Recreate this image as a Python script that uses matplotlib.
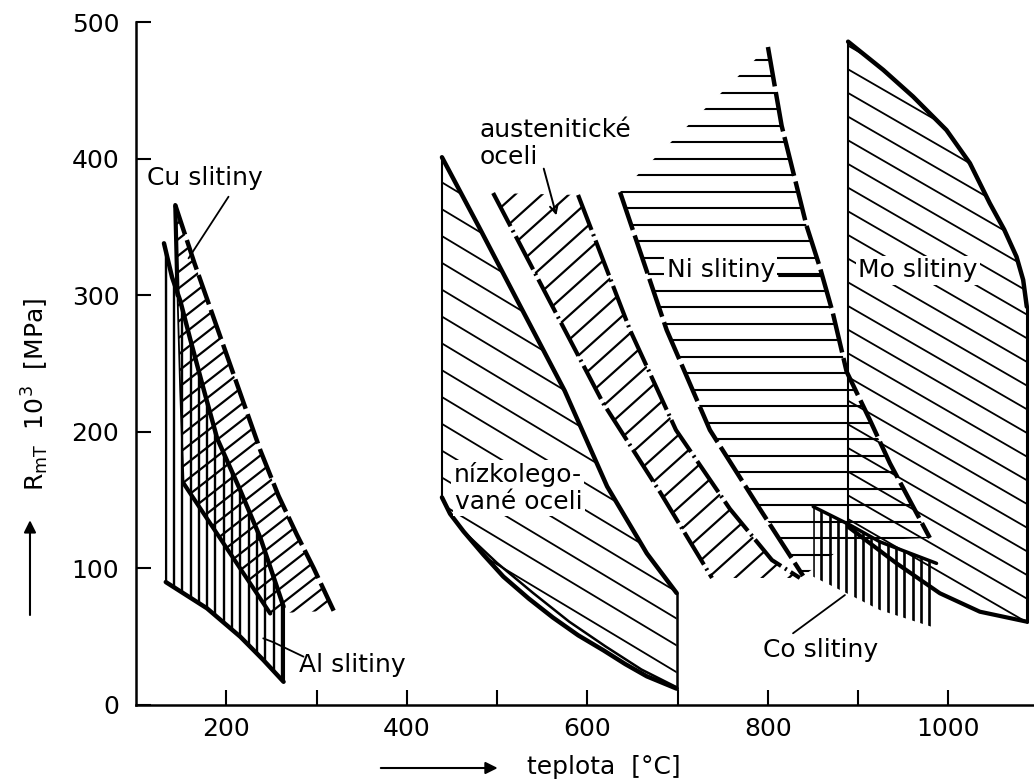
import numpy as np
import matplotlib.pyplot as plt
from matplotlib.patches import Polygon
from matplotlib.collections import LineCollection

plt.rcParams['font.family'] = ['DejaVu Sans']
plt.rcParams['font.size'] = 18

# R_mT [MPa] vs teplota [°C]

# Al slitiny
al_top_x = [131, 140, 149, 160, 175, 190, 215, 238, 263.5]
al_top_y = [338, 313, 296, 268, 231, 195, 158, 122, 72]
al_bot_x = [133, 178.6, 215.5, 241, 263.5]
al_bot_y = [90, 70.8, 50, 33, 17]

# Cu slitiny
cu_top_x = [143.5, 165, 190, 214, 238, 258, 278, 297, 319]
cu_top_y = [366, 323, 276, 231, 186, 153, 125, 100, 69]
cu_low_x = [152.7, 200.7, 248.7]
cu_low_y = [162.3, 114.6, 67]
cu_left_x = [143.5, 146, 149, 152.7]
cu_left_y = [366, 300, 230, 162.3]

# nízkolegované oceli
nl_top_x = [439, 480, 525, 575, 622, 666, 699]
nl_top_y = [401, 350, 293, 230, 160, 111, 82]
nl_bot_x = [439, 448, 463, 485, 507, 535, 562, 590, 618, 642, 666, 699]
nl_bot_y = [152, 140, 127, 110, 94, 78, 64, 51, 40, 30, 21, 12]
nl_in_x = [463, 500, 540, 580, 620, 660, 699]
nl_in_y = [127, 104, 82, 61, 43, 26, 13]

# austenitické oceli
au_left_x = [495.7, 556.6, 617.5, 680.6, 738.2]
au_left_y = [374.8, 297.9, 221.1, 155.9, 93]
au_right_x = [589.8, 647.4, 698.3, 758.1, 804.6, 835.6]
au_right_y = [373.4, 274.5, 201.3, 143.5, 106.1, 93]

# Ni slitiny
ni_right_x = [800.2, 815.4, 843, 857.8, 872.1, 887.4, 913.2, 935.3, 979.6]
ni_right_y = [481.7, 424, 350.8, 320.3, 287, 244, 208.6, 177, 122.3]
ni_left_x = [636.3, 688, 735.9, 791.3, 839.2]
ni_left_y = [375.5, 274.5, 201.3, 143.5, 94.5]
ni_bot_x = [979.6, 893, 839.2]
ni_bot_y = [122.3, 120, 94.5]

# Mo slitiny
mo_top_x = [889, 928, 961, 998, 1024, 1046, 1062, 1075.6, 1083, 1087]
mo_top_y = [485.6, 464.9, 445.4, 420.9, 396.6, 367.3, 348, 328.2, 311.2, 291.6]
mo_bot_x = [889, 942.7, 990.7, 1035, 1087]
mo_bot_y = [130.5, 103.7, 81.8, 68.3, 61]

# Co slitiny
co_top_x = [850.4, 891, 924.2, 987]
co_top_y = [145.2, 131.8, 119.5, 103.7]
co_bot_x = [850.4, 887.4, 924.2, 987]
co_bot_y = [93.9, 81.8, 69.5, 56.1]

x_ticks = [200, 300, 400, 500, 600, 700, 800, 900, 1000]
x_labels = ['200', '', '400', '', '600', '', '800', '', '1000']
y_ticks = [0, 100, 200, 300, 400, 500]

fig = plt.figure(figsize=(10.34, 7.84), dpi=100)
ax = fig.add_axes([136 / 1034, 79 / 784, 898 / 1034, 683 / 784])


def hatch(px, py, angle, step, lw):
    # šrafování: rovnoběžky v palcích obrázku, oříznuté polygonem oblasti
    patch = Polygon(np.column_stack([px, py]), closed=True, fc='none', ec='none')
    ax.add_patch(patch)
    a = np.deg2rad(angle)
    d = np.array([np.cos(a), np.sin(a)])
    n = np.array([-np.sin(a), np.cos(a)])
    c = np.array([5.17, 3.92])
    segs = [[c + o * n - 15 * d, c + o * n + 15 * d]
            for o in np.arange(-14, 14, step / 100)]
    lc = LineCollection(segs, colors='k', linewidths=lw,
                        transform=fig.dpi_scale_trans, zorder=2)
    ax.add_collection(lc, autolim=False)
    lc.set_clip_path(patch)


def line(x, y, lw=3.2, ls='-'):
    ax.plot(x, y, color='k', lw=lw, ls=ls, zorder=3, solid_capstyle='round')


# plochy
hatch([al_bot_x[0]] + al_top_x + al_bot_x[::-1],
      [al_bot_y[0]] + al_top_y + al_bot_y[::-1], 90, 8.3, 1.7)
hatch(cu_top_x + cu_low_x[::-1] + cu_left_x[::-1][1:],
      cu_top_y + cu_low_y[::-1] + cu_left_y[::-1][1:], 38, 13, 1.6)
hatch(nl_top_x + nl_bot_x[::-1], nl_top_y + nl_bot_y[::-1], -31, 23, 1.3)
hatch(au_left_x + au_right_x[::-1], au_left_y + au_right_y[::-1], 42, 18, 1.6)
hatch(ni_right_x + ni_bot_x[1:] + ni_left_x[::-1][1:],
      ni_right_y + ni_bot_y[1:] + ni_left_y[::-1][1:], 0, 16.5, 1.5)
hatch(mo_top_x + mo_bot_x[::-1], mo_top_y + mo_bot_y[::-1], -30, 20.5, 1.3)
hatch(co_top_x + co_bot_x[::-1], co_top_y + co_bot_y[::-1], 90, 8.3, 1.9)

dash = (0, (7, 1.3))
dashdot = (0, (9, 1.1, 0.5, 1.1))

# hranice
line(al_top_x, al_top_y)
line(al_bot_x, al_bot_y)
line([al_bot_x[0]] * 2, [al_bot_y[0], 328], lw=1.5)
line([al_bot_x[-1]] * 2, [al_bot_y[-1], al_top_y[-1]], lw=1.5)

line(cu_top_x, cu_top_y, ls=dash)
line(cu_low_x, cu_low_y, lw=3)
line(cu_left_x[:2], cu_left_y[:2], lw=3)
line(cu_left_x[1:], cu_left_y[1:], lw=1.3)

line(nl_top_x, nl_top_y)
line(nl_bot_x, nl_bot_y)
line(nl_in_x, nl_in_y, lw=1.8)
line([nl_top_x[0]] * 2, [nl_bot_y[0], nl_top_y[0]], lw=1.5)
line([nl_top_x[-1]] * 2, [nl_bot_y[-1], nl_top_y[-1]], lw=1.8)

line(au_left_x, au_left_y, lw=3, ls=dashdot)
line(au_right_x, au_right_y, lw=3, ls=dashdot)

line(ni_right_x, ni_right_y, ls=(0, (9, 1.3)))
line(ni_left_x, ni_left_y, ls=(0, (9, 1.3)))

line(mo_top_x, mo_top_y)
line([mo_top_x[0]] * 2, [mo_bot_y[0], mo_top_y[0]], lw=1.5)
line([mo_top_x[-1]] * 2, [mo_bot_y[-1], mo_top_y[-1]], lw=2.2)
line(mo_bot_x, mo_bot_y, lw=3)

line(co_top_x, co_top_y, lw=2.5)

# popisy
box = dict(boxstyle='square,pad=0.1', fc='white', ec='none')
ax.text(112.5, 385.8, 'Cu slitiny', va='center', zorder=5)
line([202.5, 158.2], [372.1, 327], lw=1.3)
ax.text(281, 29.5, 'Al slitiny', va='center', zorder=5)
line([285.6, 252, 241], [35.4, 46, 48.8], lw=1.3)
ax.text(481, 421, 'austenitické', va='center', zorder=5)
ax.text(481, 401.5, 'oceli', va='center', zorder=5)
ax.annotate('', xy=(566.6, 356.5), xytext=(551, 394.6),
            arrowprops=dict(arrowstyle='->', color='k', lw=1.4, mutation_scale=14),
            zorder=5)
ax.text(451.6, 168.4, 'nízkolego-', va='center', bbox=box, zorder=5)
ax.text(453.6, 148.8, 'vané oceli', va='center', bbox=box, zorder=5)
ax.text(688, 318.4, 'Ni slitiny', va='center', bbox=box, zorder=5)
line([812.4, 860], [313.8, 313.8], lw=1.5)
ax.text(900.2, 318.4, 'Mo slitiny', va='center', bbox=box, zorder=5)
ax.text(794.7, 40.3, 'Co slitiny', va='center', zorder=5)
line([828, 885.5], [52.5, 80.5], lw=1.3)

# osy
ax.set_xlim(100, 1095)
ax.set_ylim(0, 500)
for s in ['top', 'right']:
    ax.spines[s].set_visible(False)
for s in ['left', 'bottom']:
    ax.spines[s].set_linewidth(1.8)
ax.set_xticks(x_ticks, x_labels)
ax.set_yticks(y_ticks)
ax.tick_params(direction='in', length=11, width=1.5, labelsize=18)
ax.tick_params(axis='y', pad=12)
ax.tick_params(axis='x', pad=9)

fig.text(0.034, 0.497, r'R$_{\mathregular{mT}}$  10$^{\mathregular{3}}$  [MPa]',
         rotation=90, ha='center', va='center', fontsize=18)
ax.annotate('', xy=(0.029, 0.34), xytext=(0.029, 0.212), xycoords='figure fraction',
            arrowprops=dict(arrowstyle='-|>', color='k', lw=1.5, mutation_scale=18),
            annotation_clip=False)
fig.text(0.584, 0.0217, 'teplota  [°C]', ha='center', va='center', fontsize=18)
ax.annotate('', xy=(0.484, 0.0204), xytext=(0.3656, 0.0204), xycoords='figure fraction',
            arrowprops=dict(arrowstyle='-|>', color='k', lw=1.5, mutation_scale=18),
            annotation_clip=False)

fig.savefig('out.png', dpi=100)
